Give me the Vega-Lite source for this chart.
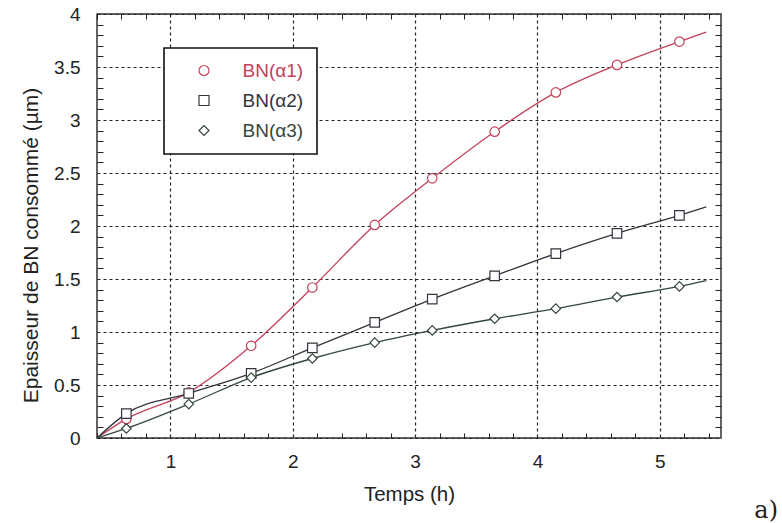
{
  "$schema": "https://vega.github.io/schema/vega-lite/v6.json",
  "width": 624,
  "height": 424,
  "autosize": {"type": "none"},
  "padding": {"left": 97, "top": 14, "right": 61, "bottom": 85},
  "background": "white",
  "config": {
    "font": "Liberation Sans",
    "view": {"stroke": "#333333", "strokeWidth": 1.5},
    "axis": {"labelColor": "#222222", "titleColor": "#222222", "titleFontWeight": "normal"},
    "legend": {"title": null, "orient": "none", "legendX": 67, "legendY": 34, "fillColor": "white", "strokeColor": "#111111",
      "padding": 13, "labelFontSize": 19, "labelOffset": 29, "symbolOffset": 17.5, "symbolSize": 100, "symbolStrokeWidth": 1.2,
      "rowPadding": 10, "labelLimit": 200}
  },
  "title": {"text": "a)", "orient": "bottom", "anchor": "end", "font": "DejaVu Serif", "fontSize": 24, "fontWeight": "normal", "color": "#222222", "dx": 57, "offset": -6},
  "data": {"values": [
    {"serie": "BN(α1)", "t": 0.4, "e": 0, "m": 0},
    {"serie": "BN(α1)", "t": 0.64, "e": 0.18, "m": 1},
    {"serie": "BN(α1)", "t": 1.15, "e": 0.43, "m": 1},
    {"serie": "BN(α1)", "t": 1.66, "e": 0.87, "m": 1},
    {"serie": "BN(α1)", "t": 2.16, "e": 1.42, "m": 1},
    {"serie": "BN(α1)", "t": 2.67, "e": 2.01, "m": 1},
    {"serie": "BN(α1)", "t": 3.14, "e": 2.45, "m": 1},
    {"serie": "BN(α1)", "t": 3.65, "e": 2.89, "m": 1},
    {"serie": "BN(α1)", "t": 4.15, "e": 3.26, "m": 1},
    {"serie": "BN(α1)", "t": 4.65, "e": 3.52, "m": 1},
    {"serie": "BN(α1)", "t": 5.16, "e": 3.74, "m": 1},
    {"serie": "BN(α1)", "t": 5.38, "e": 3.83, "m": 0},
    {"serie": "BN(α2)", "t": 0.4, "e": 0, "m": 0},
    {"serie": "BN(α2)", "t": 0.64, "e": 0.23, "m": 1},
    {"serie": "BN(α2)", "t": 1.15, "e": 0.42, "m": 1},
    {"serie": "BN(α2)", "t": 1.66, "e": 0.61, "m": 1},
    {"serie": "BN(α2)", "t": 2.16, "e": 0.85, "m": 1},
    {"serie": "BN(α2)", "t": 2.67, "e": 1.09, "m": 1},
    {"serie": "BN(α2)", "t": 3.14, "e": 1.31, "m": 1},
    {"serie": "BN(α2)", "t": 3.65, "e": 1.53, "m": 1},
    {"serie": "BN(α2)", "t": 4.15, "e": 1.74, "m": 1},
    {"serie": "BN(α2)", "t": 4.65, "e": 1.93, "m": 1},
    {"serie": "BN(α2)", "t": 5.16, "e": 2.10, "m": 1},
    {"serie": "BN(α2)", "t": 5.38, "e": 2.18, "m": 0},
    {"serie": "BN(α3)", "t": 0.4, "e": 0, "m": 0},
    {"serie": "BN(α3)", "t": 0.64, "e": 0.09, "m": 1},
    {"serie": "BN(α3)", "t": 1.15, "e": 0.32, "m": 1},
    {"serie": "BN(α3)", "t": 1.66, "e": 0.57, "m": 1},
    {"serie": "BN(α3)", "t": 2.16, "e": 0.75, "m": 1},
    {"serie": "BN(α3)", "t": 2.67, "e": 0.90, "m": 1},
    {"serie": "BN(α3)", "t": 3.14, "e": 1.015, "m": 1},
    {"serie": "BN(α3)", "t": 3.65, "e": 1.125, "m": 1},
    {"serie": "BN(α3)", "t": 4.15, "e": 1.22, "m": 1},
    {"serie": "BN(α3)", "t": 4.65, "e": 1.33, "m": 1},
    {"serie": "BN(α3)", "t": 5.16, "e": 1.43, "m": 1},
    {"serie": "BN(α3)", "t": 5.38, "e": 1.485, "m": 0}
  ]},
  "encoding": {
    "color": {"field": "serie", "type": "nominal",
      "scale": {"domain": ["BN(α1)", "BN(α2)", "BN(α3)"], "range": ["#c4415b", "#34343f", "#34473e"]},
      "legend": {"encode": {
          "legend": {"update": {"strokeWidth": {"value": 1.6}}},
          "symbols": {"update": {"fill": {"value": "white"}, "fillOpacity": {"value": 1}, "strokeWidth": {"value": 1.2}}},
          "labels": {"update": {"fill": {"scale": "color", "field": "value"}}}
        }}}
  },
  "layer": [
    {
      "mark": {"type": "line", "interpolate": "monotone", "strokeWidth": 1.3},
      "encoding": {
        "x": {"field": "t", "type": "quantitative", "scale": {"domain": [0.4, 5.5], "nice": false, "zero": false},
          "axis": {"orient": "bottom", "values": [0.4,0.6,0.8,1,1.2,1.4,1.6,1.8,2,2.2,2.4,2.6,2.8,3,3.2,3.4,3.6,3.8,4,4.2,4.4,4.6,4.8,5,5.2,5.4],
            "format": "~g", "labelExpr": "datum.value % 1 === 0 ? datum.label : ''", "labelOverlap": false, "labelFlush": false,
            "domain": false, "ticks": false,
            "grid": true, "gridColor": "#222222",
            "gridDash": {"condition": {"test": "datum.value % 1 !== 0", "value": [5, 414, 5, 1000]}, "value": [3, 3]},
            "gridWidth": {"condition": {"test": "datum.value % 1 !== 0", "value": 1}, "value": 1.2},
            "labelFontSize": 19, "labelPadding": 14, "title": "Temps (h)", "titleFontSize": 20.5, "titlePadding": 13}},
        "y": {"field": "e", "type": "quantitative", "scale": {"domain": [0, 4], "nice": false},
          "axis": {"orient": "left", "values": [0,0.1,0.2,0.3,0.4,0.5,0.6,0.7,0.8,0.9,1,1.1,1.2,1.3,1.4,1.5,1.6,1.7,1.8,1.9,2,2.1,2.2,2.3,2.4,2.5,2.6,2.7,2.8,2.9,3,3.1,3.2,3.3,3.4,3.5,3.6,3.7,3.8,3.9,4],
            "format": "~g", "labelExpr": "abs(datum.value*2 - round(datum.value*2)) < 0.001 ? datum.label : ''", "labelOverlap": false, "labelFlush": false,
            "domain": false, "ticks": false,
            "grid": true, "gridColor": "#222222",
            "gridDash": {"condition": {"test": "abs(datum.value*2 - round(datum.value*2)) > 0.001", "value": [6, 612, 6, 1000]}, "value": [3, 3]},
            "gridWidth": {"condition": {"test": "abs(datum.value*2 - round(datum.value*2)) > 0.001", "value": 1}, "value": 1.2},
            "labelFontSize": 19, "labelPadding": 17, "title": "Epaisseur de BN consommé (µm)", "titleFontSize": 21,
            "titleX": -60, "titleY": 231, "titleBaseline": "alphabetic", "titleAlign": "center", "titleAngle": -90}},
        "detail": {"field": "serie"}
      }
    },
    {
      "transform": [{"filter": "datum.m === 1"}],
      "mark": {"type": "point", "filled": false, "fill": "white", "fillOpacity": 1, "strokeWidth": 1.2, "opacity": 1, "size": 90},
      "encoding": {
        "x": {"field": "t", "type": "quantitative", "axis": null},
        "y": {"field": "e", "type": "quantitative", "axis": null},
        "shape": {"field": "serie", "type": "nominal", "scale": {"domain": ["BN(α1)", "BN(α2)", "BN(α3)"], "range": ["circle", "square", "diamond"]},
          "legend": {"encode": {
            "legend": {"update": {"strokeWidth": {"value": 1.6}}},
            "symbols": {"update": {"fill": {"value": "white"}, "fillOpacity": {"value": 1}, "strokeWidth": {"value": 1.2}}},
            "labels": {"update": {"fill": {"scale": "color", "field": "value"}}}
          }}}
      }
    }
  ],
  "resolve": {"axis": {"x": "independent", "y": "independent"}}
}
